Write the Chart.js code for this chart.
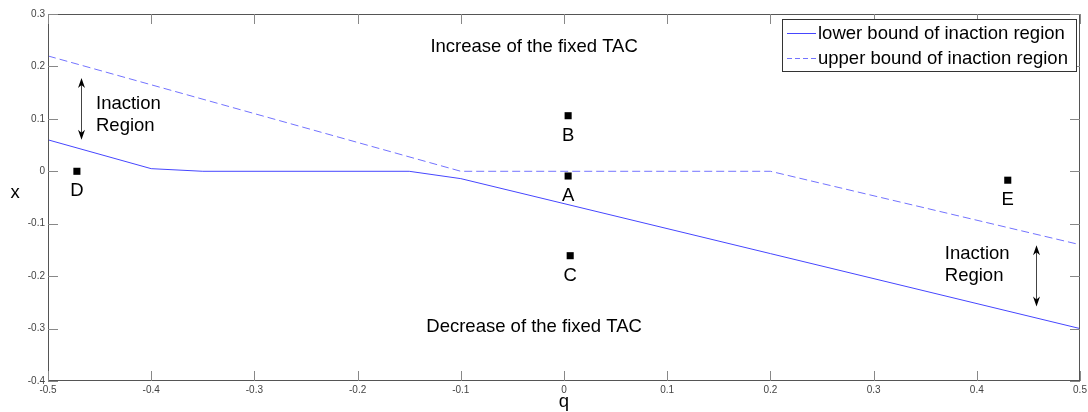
<!DOCTYPE html>
<html>
<head>
<meta charset="utf-8">
<script src="https://cdn.jsdelivr.net/npm/chart.js@4"></script>
<style>
html,body{margin:0;padding:0;background:#fff;}
#wrap{width:1088px;height:412px;}
</style>
</head>
<body>
<div id="wrap"><canvas id="c" width="1088" height="412"></canvas></div>
<script>
// ---- data ----
const lowerQ = [-0.5, -0.4, -0.35, -0.15, -0.1, 0.5];
const lowerX = [0.06, 0.005, 0, 0, -0.014, -0.3];
const upperQ = [-0.5, -0.1, 0.2, 0.5];
const upperX = [0.22, 0, 0, -0.14];
const pointNames = ['A', 'B', 'C', 'D', 'E'];
const pointQ = [0.004, 0.004, 0.006, -0.472, 0.43];
const pointX = [-0.009, 0.106, -0.161, 0.0, -0.017];
const legendLabels = ['lower bound of inaction region', 'upper bound of inaction region'];
const regionTexts = ['Increase of the fixed TAC', 'Decrease of the fixed TAC'];
const regionTextQ = [-0.029, -0.029];
const regionTextX = [0.237, -0.297];
const inactionTextQ = [-0.4535, 0.369];
const inactionTextX = [0.107, -0.178];
const arrowQ = [-0.468, 0.457];
const arrowTop = [0.178, -0.141];
const arrowBottom = [0.06, -0.258];
const xTickMin = -0.5, xTickMax = 0.5, yTickMin = -0.4, yTickMax = 0.3, tickStep = 0.1;

const FONT = "'Liberation Sans', Arial, Helvetica, sans-serif";
const LOWER_COLOR = 'rgb(70,70,255)';
const UPPER_COLOR = 'rgb(115,115,255)';
const LINE_COLORS = [LOWER_COLOR, UPPER_COLOR];
const TEXT_SIZE = 18.5;

function zip(a, b) { return a.map((v, i) => ({ x: v, y: b[i] })); }
function fmt(v) { const r = Math.round(v * 10) / 10; return r === 0 ? '0' : String(r); }

const overlay = {
  id: 'overlay',
  afterDraw(chart) {
    const ctx = chart.ctx;
    const a = chart.chartArea;
    const xs = chart.scales.x, ys = chart.scales.y;
    ctx.save();
    // box
    ctx.strokeStyle = '#555';
    ctx.lineWidth = 1;
    ctx.strokeRect(Math.round(a.left) + 0.5, Math.round(a.top) + 0.5, Math.round(a.right - a.left) - 1, Math.round(a.bottom - a.top) - 1);
    // inward ticks on all sides
    ctx.strokeStyle = '#888';
    const tl = 10;
    xs.ticks.forEach(t => {
      const px = Math.round(xs.getPixelForValue(t.value)) + 0.5;
      ctx.beginPath();
      ctx.moveTo(px, a.bottom); ctx.lineTo(px, a.bottom - tl);
      ctx.moveTo(px, a.top); ctx.lineTo(px, a.top + tl);
      ctx.stroke();
    });
    ys.ticks.forEach(t => {
      const py = Math.round(ys.getPixelForValue(t.value)) + 0.5;
      ctx.beginPath();
      ctx.moveTo(a.left, py); ctx.lineTo(a.left + tl, py);
      ctx.moveTo(a.right, py); ctx.lineTo(a.right - tl, py);
      ctx.stroke();
    });
    // point letters
    ctx.fillStyle = '#000';
    ctx.font = TEXT_SIZE + 'px ' + FONT;
    ctx.textAlign = 'center';
    ctx.textBaseline = 'middle';
    pointNames.forEach((n, i) => {
      ctx.fillText(n, xs.getPixelForValue(pointQ[i]), ys.getPixelForValue(pointX[i]) + 20);
    });
    // region texts
    regionTexts.forEach((t, i) => {
      ctx.fillText(t, xs.getPixelForValue(regionTextQ[i]), ys.getPixelForValue(regionTextX[i]));
    });
    // inaction region texts
    ctx.textAlign = 'left';
    inactionTextQ.forEach((q, i) => {
      const px = xs.getPixelForValue(q), py = ys.getPixelForValue(inactionTextX[i]);
      ctx.fillText('Inaction', px, py - 11);
      ctx.fillText('Region', px, py + 11);
    });
    // arrows
    ctx.strokeStyle = '#444';
    ctx.fillStyle = '#000';
    arrowQ.forEach((q, i) => {
      const px = Math.round(xs.getPixelForValue(q)) + 0.5;
      const y1 = ys.getPixelForValue(arrowTop[i]), y2 = ys.getPixelForValue(arrowBottom[i]);
      ctx.beginPath(); ctx.moveTo(px, y1 + 2); ctx.lineTo(px, y2 - 2); ctx.stroke();
      ctx.beginPath(); ctx.moveTo(px, y1); ctx.lineTo(px - 3.5, y1 + 10); ctx.lineTo(px, y1 + 7); ctx.lineTo(px + 3.5, y1 + 10); ctx.closePath(); ctx.fill();
      ctx.beginPath(); ctx.moveTo(px, y2); ctx.lineTo(px - 3.5, y2 - 10); ctx.lineTo(px, y2 - 7); ctx.lineTo(px + 3.5, y2 - 10); ctx.closePath(); ctx.fill();
    });
    // axis titles
    ctx.fillStyle = '#000';
    ctx.font = TEXT_SIZE + 'px ' + FONT;
    ctx.textAlign = 'center';
    ctx.fillText('x', 15, (a.top + a.bottom) / 2 - 5);
    ctx.fillText('q', (a.left + a.right) / 2, 402);
    // legend
    const lx = a.right - 298, ly = a.top + 5, lw = 294, lh = 52;
    ctx.fillStyle = '#fff';
    ctx.fillRect(lx, ly, lw, lh);
    ctx.strokeStyle = '#333';
    ctx.strokeRect(Math.round(lx) + 0.5, Math.round(ly) + 0.5, lw, lh);
    ctx.textAlign = 'left';
    [0, 1].forEach(i => {
      const yy = Math.round(ly + 14 + i * 25);
      ctx.fillStyle = LINE_COLORS[i];
      if (i === 0) {
        ctx.fillRect(lx + 5, yy, 29, 1);
      } else {
        for (let d = 0; d < 29; d += 8) ctx.fillRect(lx + 5 + d, yy, Math.min(5, 29 - d), 1);
      }
      ctx.fillStyle = '#000';
      ctx.fillText(legendLabels[i], lx + 36, yy + 0.5);
    });
    ctx.restore();
  }
};

new Chart(document.getElementById('c'), {
  type: 'scatter',
  data: {
    datasets: [
      { label: legendLabels[0], data: zip(lowerQ, lowerX), showLine: true, borderColor: LOWER_COLOR, borderWidth: 1, pointRadius: 0, fill: false, tension: 0 },
      { label: legendLabels[1], data: zip(upperQ, upperX), showLine: true, borderColor: UPPER_COLOR, borderWidth: 1, borderDash: [8, 4], pointRadius: 0, fill: false, tension: 0 },
      { label: 'points', data: zip(pointQ, pointX), showLine: false, pointStyle: 'rect', pointRadius: 5, backgroundColor: '#000', borderWidth: 0 }
    ]
  },
  options: {
    responsive: false,
    animation: false,
    devicePixelRatio: 1,
    layout: { padding: { top: 14, right: 8, left: 0, bottom: 0 } },
    plugins: { legend: { display: false }, tooltip: { enabled: false } },
    scales: {
      x: {
        type: 'linear', min: xTickMin, max: xTickMax,
        grid: { display: false, drawTicks: false, tickLength: 0 },
        border: { display: false },
        ticks: { stepSize: tickStep, autoSkip: false, maxRotation: 0, color: '#444', font: { size: 10, family: FONT }, padding: 3, callback: v => fmt(v) },
        afterFit(s) { s.height = 31; s.paddingLeft = 0; s.paddingRight = 0; }
      },
      y: {
        type: 'linear', min: yTickMin, max: yTickMax,
        grid: { display: false, drawTicks: false, tickLength: 0 },
        border: { display: false },
        ticks: { stepSize: tickStep, autoSkip: false, color: '#444', font: { size: 10, family: FONT }, padding: 3, callback: v => fmt(v) },
        afterFit(s) { s.width = 48; s.paddingTop = 0; s.paddingBottom = 0; }
      }
    }
  },
  plugins: [overlay]
});
</script>
</body>
</html>
